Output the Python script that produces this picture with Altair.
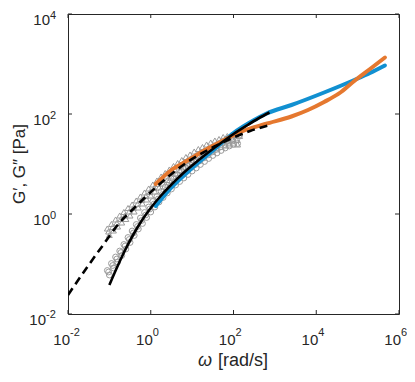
import altair as alt
import pandas as pd

# ---------------- data (log10 values) ----------------
# G' model (blue) and G'' model (orange)
gp_model_logw = [0.12, 0.5, 1.0, 1.5, 1.75, 2.0, 2.5, 2.8, 3.4, 4.19, 4.92, 5.3, 5.66]
gp_model_logG = [0.16, 0.53, 0.92, 1.27, 1.45, 1.62, 1.88, 2.01, 2.18, 2.43, 2.68, 2.82, 2.97]
gpp_model_logw = [0.12, 0.5, 0.89, 1.25, 1.54, 1.75, 2.2, 2.77, 3.4, 3.8, 4.19, 4.6, 4.92, 5.3, 5.66]
gpp_model_logG = [0.60, 0.88, 1.07, 1.25, 1.38, 1.47, 1.65, 1.80, 1.95, 2.08, 2.24, 2.44, 2.66, 2.90, 3.13]

# G' fit (black solid) and G'' fit (black dashed)
gp_fit_logw = [-1.0, -0.8, -0.6, -0.4, -0.2, 0.0, 0.25, 0.5, 0.75, 1.0, 1.25, 1.5, 1.78, 2.0, 2.34, 2.6, 2.87]
gp_fit_logG = [-1.42, -1.04, -0.69, -0.38, -0.11, 0.12, 0.37, 0.59, 0.79, 0.97, 1.14, 1.30, 1.47, 1.60, 1.78, 1.91, 2.03]
gpp_fit_logw = [-2.0, -1.5, -1.16, -0.75, -0.4, -0.19, 0.12, 0.5, 0.89, 1.25, 1.54, 2.0, 2.4, 2.87]
gpp_fit_logG = [-1.62, -1.02, -0.63, -0.17, 0.12, 0.29, 0.53, 0.80, 1.04, 1.22, 1.35, 1.53, 1.66, 1.78]

# measured G' (circles), three runs
circ1_logw = [-1.05, -0.95, -0.85, -0.75, -0.65, -0.55, -0.45, -0.35, -0.25, -0.15, -0.05,
              0.05, 0.15, 0.25, 0.35, 0.45, 0.55, 0.65, 0.75, 0.85, 0.95, 1.05, 1.15,
              1.25, 1.35, 1.45, 1.55, 1.65, 1.75, 1.85, 1.95, 2.05, 2.15]
circ1_logG = [-1.13, -0.99, -0.86, -0.74, -0.61, -0.47, -0.34, -0.21, -0.08, 0.03, 0.14,
              0.25, 0.35, 0.45, 0.54, 0.62, 0.70, 0.78, 0.85, 0.92, 0.99, 1.05, 1.12,
              1.18, 1.24, 1.30, 1.35, 1.41, 1.46, 1.50, 1.53, 1.56, 1.58]
circ2_logw = [-1.0, -0.9, -0.8, -0.7, -0.6, -0.5, -0.4, -0.3, -0.2, -0.1, 0.0,
              0.1, 0.2, 0.3, 0.4, 0.5, 0.6, 0.7, 0.8, 0.9, 1.0, 1.1, 1.2,
              1.3, 1.4, 1.5, 1.6, 1.7, 1.8, 1.9, 2.0, 2.1]
circ2_logG = [-1.22, -1.08, -0.96, -0.83, -0.70, -0.57, -0.43, -0.30, -0.19, -0.07, 0.04,
              0.14, 0.24, 0.33, 0.42, 0.50, 0.58, 0.65, 0.72, 0.79, 0.86, 0.92, 0.99,
              1.05, 1.11, 1.17, 1.22, 1.27, 1.32, 1.36, 1.39, 1.41]
circ3_logw = [-1.02, -0.92, -0.82, -0.72, -0.62, -0.52, -0.42, -0.32, -0.22, -0.12, -0.02,
              0.08, 0.18, 0.28, 0.38, 0.48, 0.58, 0.68, 0.78, 0.88, 0.98, 1.08, 1.18,
              1.28, 1.38, 1.48, 1.58, 1.68, 1.78, 1.88, 1.98, 2.08]
circ3_logG = [-1.16, -1.03, -0.90, -0.77, -0.64, -0.51, -0.38, -0.25, -0.13, -0.02, 0.10,
              0.20, 0.30, 0.39, 0.48, 0.56, 0.64, 0.72, 0.79, 0.86, 0.93, 0.99, 1.06,
              1.12, 1.18, 1.24, 1.29, 1.34, 1.39, 1.43, 1.46, 1.49]

# measured G'' (triangles), three runs
tri1_logw = circ1_logw
tri1_logG = [-0.29, -0.20, -0.11, -0.03, 0.04, 0.12, 0.19, 0.27, 0.35, 0.43, 0.51,
             0.59, 0.67, 0.75, 0.82, 0.89, 0.96, 1.02, 1.08, 1.14, 1.19, 1.25, 1.30,
             1.34, 1.39, 1.43, 1.47, 1.50, 1.54, 1.56, 1.58, 1.58, 1.56]
tri2_logw = circ2_logw
tri2_logG = [-0.42, -0.33, -0.25, -0.17, -0.10, -0.03, 0.05, 0.13, 0.21, 0.29, 0.37,
             0.45, 0.53, 0.61, 0.68, 0.75, 0.81, 0.87, 0.93, 0.99, 1.04, 1.09, 1.14,
             1.19, 1.23, 1.27, 1.31, 1.34, 1.37, 1.39, 1.41, 1.39]
tri3_logw = circ3_logw
tri3_logG = [-0.35, -0.26, -0.18, -0.10, -0.03, 0.05, 0.12, 0.20, 0.28, 0.36, 0.44,
             0.52, 0.60, 0.68, 0.75, 0.82, 0.89, 0.95, 1.01, 1.07, 1.12, 1.17, 1.22,
             1.27, 1.31, 1.35, 1.39, 1.42, 1.45, 1.47, 1.49, 1.48]

x_ticks = [1e-2, 1e0, 1e2, 1e4, 1e6]
x_exps = ["-2", "0", "2", "4", "6"]
y_ticks = [1e-2, 1e0, 1e2, 1e4]
y_exps = ["-2", "0", "2", "4"]


def frame(lw, lg):
    return pd.DataFrame({"w": [10 ** v for v in lw], "G": [10 ** v for v in lg]})


W, H = 331, 300
FONT = "Liberation Sans"
TXT = "#262626"
BLUE = "#1190d1"
ORANGE = "#e5782f"
GREY = "#9c9c9c"

xs = alt.Scale(type="log", domain=[1e-2, 1e6], nice=False)
ys = alt.Scale(type="log", domain=[1e-2, 1e4], nice=False)
X = alt.X("w:Q", scale=xs, axis=None)
Y = alt.Y("G:Q", scale=ys, axis=None)

circ_df = pd.concat([frame(circ1_logw, circ1_logG), frame(circ2_logw, circ2_logG),
                     frame(circ3_logw, circ3_logG)])
tri_df = pd.concat([frame(tri1_logw, tri1_logG), frame(tri2_logw, tri2_logG),
                    frame(tri3_logw, tri3_logG)])

circles = alt.Chart(circ_df).mark_point(
    shape="circle", filled=False, size=34, strokeWidth=1, color=GREY, opacity=1, clip=True
).encode(x=X, y=Y)
triangles = alt.Chart(tri_df).mark_point(
    shape="triangle-up", filled=False, size=34, strokeWidth=1, color=GREY, opacity=1, clip=True
).encode(x=X, y=Y)

blue = alt.Chart(frame(gp_model_logw, gp_model_logG)).mark_line(
    color=BLUE, strokeWidth=4, interpolate="monotone", strokeCap="round", clip=True
).encode(x=X, y=Y)
orange = alt.Chart(frame(gpp_model_logw, gpp_model_logG)).mark_line(
    color=ORANGE, strokeWidth=4, interpolate="monotone", strokeCap="round", clip=True
).encode(x=X, y=Y)
fit_solid = alt.Chart(frame(gp_fit_logw, gp_fit_logG)).mark_line(
    color="black", strokeWidth=2.6, interpolate="monotone", clip=True
).encode(x=X, y=Y)
fit_dash = alt.Chart(frame(gpp_fit_logw, gpp_fit_logG)).mark_line(
    color="black", strokeWidth=2.6, interpolate="monotone", strokeDash=[8, 5], clip=True
).encode(x=X, y=Y)

xt = pd.DataFrame({"w": x_ticks, "e": x_exps})
yt = pd.DataFrame({"G": y_ticks, "e": y_exps})

tick_b = alt.Chart(xt).mark_rule(color=TXT, strokeWidth=1).encode(x=X, y=alt.value(H), y2=alt.value(H - 4))
tick_t = alt.Chart(xt).mark_rule(color=TXT, strokeWidth=1).encode(x=X, y=alt.value(0), y2=alt.value(4))
tick_l = alt.Chart(yt).mark_rule(color=TXT, strokeWidth=1).encode(y=Y, x=alt.value(0), x2=alt.value(4))
tick_r = alt.Chart(yt).mark_rule(color=TXT, strokeWidth=1).encode(y=Y, x=alt.value(W), x2=alt.value(W - 4))

xl_base = alt.Chart(xt).mark_text(
    text="10", align="right", baseline="alphabetic", dx=2, fontSize=15, font=FONT, color=TXT
).encode(x=X, y=alt.value(H + 31))
xl_exp = alt.Chart(xt).mark_text(
    align="left", baseline="alphabetic", dx=2, fontSize=11, font=FONT, color=TXT
).encode(x=X, y=alt.value(H + 22), text="e:N")

yl_base_pos = alt.Chart(yt).transform_filter("datum.e != '-2'").mark_text(
    text="10", align="right", baseline="alphabetic", dy=11, fontSize=15, font=FONT, color=TXT
).encode(y=Y, x=alt.value(-18))
yl_exp_pos = alt.Chart(yt).transform_filter("datum.e != '-2'").mark_text(
    align="left", baseline="alphabetic", dy=5, fontSize=11, font=FONT, color=TXT
).encode(y=Y, x=alt.value(-18), text="e:N")
yl_base_neg = alt.Chart(yt).transform_filter("datum.e == '-2'").mark_text(
    text="10", align="right", baseline="alphabetic", dy=11, fontSize=15, font=FONT, color=TXT
).encode(y=Y, x=alt.value(-22))
yl_exp_neg = alt.Chart(yt).transform_filter("datum.e == '-2'").mark_text(
    align="left", baseline="alphabetic", dy=4, fontSize=11, font=FONT, color=TXT
).encode(y=Y, x=alt.value(-22), text="e:N")

title_df = pd.DataFrame({"k": [0]})
x_title_w = alt.Chart(title_df).mark_text(
    text="ω", align="right", baseline="alphabetic", fontSize=18, font=FONT, fontStyle="italic", color=TXT
).encode(x=alt.value(144), y=alt.value(H + 52))
x_title_u = alt.Chart(title_df).mark_text(
    text="[rad/s]", align="left", baseline="alphabetic", fontSize=18, font=FONT, color=TXT
).encode(x=alt.value(150), y=alt.value(H + 52))
y_title = alt.Chart(title_df).mark_text(
    text="G′, G″ [Pa]", align="center", baseline="alphabetic", angle=270, fontSize=17, font=FONT, color=TXT
).encode(x=alt.value(-43), y=alt.value(H / 2))

chart = alt.layer(
    circles, triangles, blue, orange, fit_solid, fit_dash,
    tick_b, tick_t, tick_l, tick_r,
    xl_base, xl_exp, yl_base_pos, yl_exp_pos, yl_base_neg, yl_exp_neg,
    x_title_w, x_title_u, y_title,
).properties(
    width=W, height=H,
    padding={"left": 60, "top": 6, "right": 8, "bottom": 56},
    autosize=alt.AutoSizeParams(type="none"),
).configure_view(stroke=TXT, strokeWidth=1)

chart.save("out.html", embed_options={"renderer": "svg", "actions": False})
